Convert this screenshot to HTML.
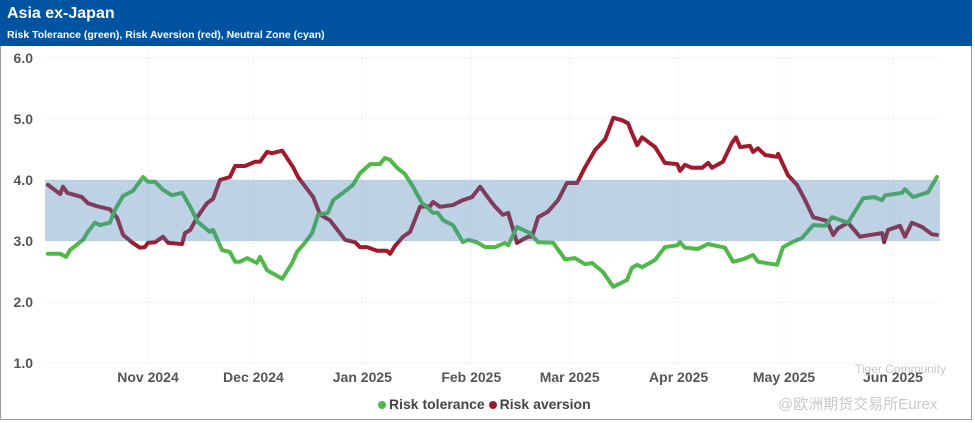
<!DOCTYPE html>
<html><head><meta charset="utf-8"><style>
body{margin:0;background:#fff;width:975px;height:423px;overflow:hidden;font-family:"Liberation Sans","Noto Sans CJK SC",sans-serif}
#frame{position:absolute;left:0;top:0;width:972px;height:420px;border:1px solid #9a9a9a;border-top:none;box-sizing:border-box}
#hdr{position:absolute;left:0;top:0;width:972px;height:46px;background:#0053a1;color:#fff}
#t1{position:absolute;left:7px;top:5px;font-size:16px;font-weight:bold}
#t2{position:absolute;left:7px;top:29px;font-size:10.5px;font-weight:bold}
</style></head><body>
<div id="frame"></div>
<div id="hdr">
<div id="t1">Asia ex-Japan</div>
<div id="t2">Risk Tolerance (green), Risk Aversion (red), Neutral Zone (cyan)</div>
</div>
<svg id="c" width="975" height="423" style="position:absolute;left:0;top:0"></svg>
<script>
const yTicks=[1,2,3,4,5,6];
const monthLabels=["Nov 2024","Dec 2024","Jan 2025","Feb 2025","Mar 2025","Apr 2025","May 2025","Jun 2025"];
const monthDays=[31,61,92,123,151,182,212,243];
const neutralZone=[3,4];
const greenDays=[2.5,6,7.7,8.8,12.5,13.9,15.9,17.3,20.2,21.6,23.9,26.7,29.6,31,33,35.3,37.8,40.7,43,45.2,48.6,49.5,52.1,54.3,55.8,57.2,59.2,62,62.9,64.9,69.2,72,73.4,76.3,77.7,79.4,82.2,83.7,87.6,89.3,91.3,94.2,97,98.4,99.9,101.9,104.1,106.4,109,110.7,112.1,113.5,115,117.8,120.6,122.1,124.6,126.9,129.8,132.6,133.5,136,139.7,142,146.3,149.7,152.5,155.4,157.4,160.5,163.4,167.3,168.7,170.2,171.6,175.3,178.1,181.6,182.4,183.8,187.5,190.4,195.2,197.5,200.3,203.2,204.6,210,211.7,214.3,217.1,220.3,223.7,225.7,230.2,234.5,237.7,239.9,240.8,245.6,246.4,248.7,253,255.5];
const greenVals=[2.79,2.79,2.74,2.85,3.02,3.15,3.30,3.26,3.30,3.51,3.74,3.82,4.05,3.97,3.97,3.84,3.75,3.79,3.56,3.31,3.15,3.18,2.85,2.82,2.66,2.66,2.72,2.64,2.74,2.52,2.38,2.64,2.82,3.02,3.13,3.43,3.46,3.67,3.84,3.92,4.11,4.26,4.26,4.36,4.33,4.20,4.10,3.89,3.62,3.54,3.46,3.46,3.34,3.26,2.98,3.02,2.98,2.90,2.90,2.97,2.93,3.23,3.13,2.98,2.97,2.70,2.72,2.62,2.64,2.49,2.25,2.36,2.56,2.61,2.57,2.69,2.90,2.93,2.98,2.89,2.87,2.95,2.89,2.66,2.70,2.77,2.66,2.61,2.90,2.98,3.05,3.26,3.25,3.39,3.30,3.70,3.72,3.67,3.75,3.79,3.85,3.72,3.80,4.05];
const redDays=[2.5,6,6.8,8,12.2,13.9,16.5,20.2,22.2,23.9,26.4,28.7,30.1,31,33,35.3,36.7,40.7,41.5,43,45,47.8,49.5,51.5,54.3,55.8,58.6,61.5,62.9,64.9,66.3,69.2,72.3,73.7,78,80,82.8,87.1,89.9,91.3,93.3,96.2,99,99.9,101.3,103.6,105.6,108.4,111.3,112.1,114.1,117.8,120.6,123.2,125.5,128.3,129.8,132,133.5,136,139.1,140.3,142,144.8,147.7,150.2,153.1,155.4,158.2,161.1,163.4,165.9,167.6,168.7,170.2,171.6,175.3,178.1,181.6,182.4,183.8,185.8,188.7,190.4,191.5,194.6,197.2,198.3,199.5,202.3,203.2,204.6,206.6,210,210.3,213.1,215.7,218,220.3,224.2,226,227.4,230.2,233.6,237.7,239.9,240.5,241.6,245,246.4,248.4,251.3,254.1,255.5];
const redVals=[3.92,3.77,3.89,3.79,3.72,3.62,3.57,3.52,3.38,3.10,2.98,2.89,2.90,2.97,2.98,3.07,2.97,2.95,3.13,3.18,3.39,3.62,3.69,4.00,4.05,4.23,4.23,4.30,4.30,4.46,4.44,4.48,4.21,4.05,3.72,3.43,3.34,3.02,2.98,2.90,2.90,2.84,2.84,2.79,2.92,3.07,3.15,3.56,3.57,3.64,3.56,3.59,3.67,3.72,3.89,3.67,3.56,3.43,3.46,2.97,3.07,3.07,3.39,3.48,3.67,3.95,3.95,4.21,4.49,4.67,5.02,4.98,4.93,4.77,4.57,4.70,4.54,4.28,4.26,4.15,4.25,4.20,4.20,4.28,4.20,4.30,4.61,4.70,4.54,4.56,4.46,4.52,4.41,4.38,4.43,4.08,3.92,3.67,3.39,3.33,3.10,3.21,3.30,3.07,3.11,3.13,2.98,3.18,3.25,3.07,3.30,3.23,3.11,3.10];

const svg=document.getElementById('c');const NS='http://www.w3.org/2000/svg';
function X(d){return 148+(d-31)*3.514;}
function Y(v){return 363-(v-1)*61;}
function mk(t,a,p){const e=document.createElementNS(NS,t);for(const k in a)e.setAttribute(k,a[k]);(p||svg).appendChild(e);return e;}
const x0=45,x1=940;
yTicks.forEach(v=>{
 const g=mk('line',{x1:x0,x2:x1,y1:Y(v),y2:Y(v),stroke:'#d8d8d8','stroke-dasharray':'1,3'});
 
 
 const t=mk('text',{x:33,y:Y(v)+5,'text-anchor':'end','font-size':'14','font-weight':'bold',fill:'#555'});
 t.textContent=v.toFixed(1);
 
 
});
monthDays.forEach((d,i)=>{
 const g=mk('line',{x1:X(d),x2:X(d),y1:50,y2:363,stroke:'#e2e2e2','stroke-dasharray':'1,3'});
 
 
 const t=mk('text',{x:X(d),y:382,'text-anchor':'middle','font-size':'14','font-weight':'bold',fill:'#555'});
 t.textContent=monthLabels[i];
 
 
});
function line(days,vals,color,name){
 const p=mk('polyline',{points:days.map((d,i)=>X(d).toFixed(1)+','+Y(vals[i]).toFixed(1)).join(' '),fill:'none',stroke:color,'stroke-width':'4','stroke-linejoin':'round','stroke-linecap':'round'});
 
 
}
line(redDays,redVals,'#a01a2b','risk-aversion-line');
line(greenDays,greenVals,'#4fb848','risk-tolerance-line');
const band=mk('rect',{x:x0,y:Y(neutralZone[1]),width:x1-x0,height:Y(neutralZone[0])-Y(neutralZone[1]),fill:'rgb(70,125,180)','fill-opacity':'0.35'});


</script>
<div style="position:absolute;left:378px;top:396px;font-size:14px;font-weight:bold;color:#444;white-space:nowrap">
<span><span style="display:inline-block;width:8px;height:8px;border-radius:50%;background:#4fb848;margin-right:3px"></span>Risk tolerance</span>
<span><span style="display:inline-block;width:8px;height:8px;border-radius:50%;background:#a01a2b;margin-right:3px"></span>Risk aversion</span>
</div>
<div style="position:absolute;left:855px;top:362px;font-size:12px;color:#c8c8c8">Tiger Community</div>
<div style="position:absolute;left:778px;top:393px;font-size:15px;color:#c8c8c8;font-family:'Liberation Sans','Noto Sans CJK SC',sans-serif">@欧洲期货交易所Eurex</div>
</body></html>
